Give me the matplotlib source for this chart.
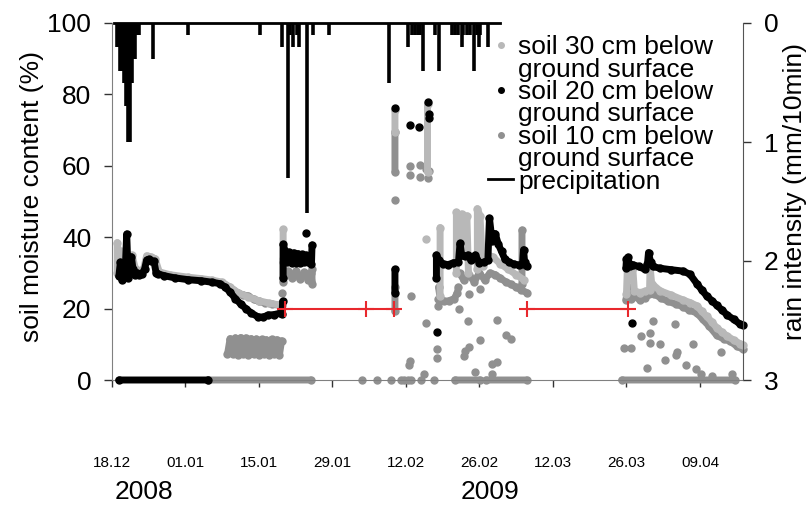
import numpy as np
import matplotlib
matplotlib.use("Agg")
import matplotlib.pyplot as plt
from matplotlib.lines import Line2D

plt.rcParams['font.family'] = ['Liberation Sans', 'DejaVu Sans']
nan = np.nan

# x axis: days since 18.12.2008
tick_days = [0, 14, 28, 42, 56, 70, 84, 98, 112]
tick_labels = ['18.12', '01.01', '15.01', '29.01', '12.02', '26.02', '12.03', '26.03', '09.04']
years = ['2008', '2009']

# soil 20 cm (black)
s20_days = [1.3, 1.6, 1.9, 2.2, 2.5, 2.8, 3.1, 3.4, 3.7, 4.0, 4.4, 4.8, 5.2, 5.7, 6.2, 6.6, 7.0, 7.5, 8.0,
            8.4, 8.8, 10, 12, 14.5, 17, 19, 20.5, 21.5, 22.5, 23.5, 24.5, 25.5, 26.5, 27.8, 28.8, 29.7,
            30.8, 32.0, 32.4, 32.5, nan,
            32.6, 32.6, 33.0, 33.4, 33.8, 34.2, 34.6, 35.0, 35.4, 35.8, 36.2, 36.6, 37.0, 37.4, 37.8, 38.0, 38.1, nan,
            53.9, 53.9, nan,
            61.8, 61.8, 62.3, 63.0, 64.0, 65.0, 66.0, 66.3, 66.6, 67.2, 67.8, 68.4, 69.2, 70.0, 70.8, 71.6,
            71.9, 72.4, 73.0, 73.6, 74.2, 74.8, 75.6, 76.5, 77.5, 78.2, 78.4, 78.6, 79.1, nan,
            97.9, 98.0, 98.3, 98.6, 99.2, 100.3, 101.5, 102.0, 102.2, 102.6, 103.0, 104.4, 106.5, 108.8,
            110.1, 111.4, 112.3, 113.3, 114.3, 115.2, 116.2, 117.1, 118.4, 119.6, 120.2, nan,
            1.3, 18.3]
s20_vals = [29, 33, 28, 32, 30, 40.9, 28.5, 30, 34.5, 31, 29.5, 30, 29.5, 29.8, 31, 33.6, 33.8, 33.4, 33.2,
            30, 29.7, 29.2, 28.6, 28.1, 27.8, 27.4, 27, 26.1, 24.6, 22.8, 21.3, 20.0, 18.8, 17.7, 17.6, 18.2,
            18.3, 18.7, 18.5, 22, nan,
            28.6, 38, 36, 33, 35.8, 32.8, 35.6, 32.8, 35.4, 32.9, 35.2, 33, 35, 33, 34.5, 32.6, 37.8, nan,
            24.5, 31, nan,
            28.6, 35, 33.5, 32.6, 32.3, 32.8, 33, 38.3, 35, 34.6, 35, 33.5, 35, 32.8, 33, 33.5,
            45.3, 39, 41, 38, 36, 34, 33, 32.5, 32.2, 32.5, 36.5, 33, 32, nan,
            31.3, 33.9, 34.4, 32, 32.3, 31.8, 31, 32.5, 35.7, 33, 31.8, 31.3, 30.9, 30.5,
            29.6, 27, 25.3, 23.5, 22.2, 20.9, 19.6, 18.3, 17, 15.7, 15.3, nan,
            0, 0]
s20_dot_days = [37.0, 53.9, 56.8, 58.5, 60.1, 60.4, 60.4, 62.0, 99.1]
s20_dot_vals = [41.1, 76.2, 71.4, 71.0, 78.0, 74.5, 73.5, 13.5, 16.0]

# soil 30 cm (light grey)
s30_days = [1.0, 1.0, 1.4, 1.8, 2.2, 2.6, 3.2, 3.8, 4.5, 5.2, 6.0, 6.6, 7.4, 8.2, 9.0, 11, 14.5, 17, 19,
            21, 22.5, 24, 26, 28, 30, 32, nan,
            32.6, 32.6, nan, 53.9, 53.9, nan, 60.1, 60.1, nan, 62.5, 62.5, nan,
            65.6, 65.6, 66.1, 66.6, 67.1, 67.6, 67.9, nan,
            69.6, 69.6, 70.1, 70.6, nan,
            71.0, 72.5, 74.0, 75.5, 77.0, 78.5, nan,
            98.0, 98.2, 98.7, 99.2, 99.5, 100.5, 101.5, 102.4, 102.5, 102.8, 104.4, 106.5, 108.8, 110.1,
            111.4, 112.3, 113.3, 114.3, 115.2, 116.2, 117.1, 118.4, 119.6, 120.2]
s30_vals = [30, 38.5, 33, 36, 31, 34, 33, 35, 31, 30.5, 31, 34.8, 34.5, 34, 30.3, 29.5, 28.8, 28.4, 28,
            27.4, 26, 24.5, 23.2, 22.2, 21.5, 21, nan,
            34, 42.2, nan, 69.5, 75.5, nan, 58.3, 77.3, nan, 23.4, 42.7, nan,
            30, 47, 40, 46.5, 35, 46, 30, nan,
            31, 48, 46, 32, nan,
            35.5, 34.5, 32.5, 31, 29.5, 28, nan,
            24, 32.6, 30, 31.5, 25, 24.5, 24.8, 25.3, 31.8, 27, 25, 23.8, 22.4, 21.7,
            20.8, 19.3, 17.8, 16.2, 14.6, 13.4, 12.4, 11.2, 10.2, 9.8]
s30_dot_days = [59.9]
s30_dot_vals = [39.6]

# soil 10 cm (mid grey)
s10_days = [21.5, 22.2, 23, 24, 25, 26, 27, 28, 29.1, 30.5, 32, 32.4, nan,
            32.6, 32.6, nan,
            32.8, 33.5, 34.3, 35.0, 35.8, 36.6, 37.4, 37.9, 38.1, 38.1, nan,
            22.0, 22.5, 23.0, 23.5, 24.0, 24.5, 25.0, 25.5, 26.0, 26.5, 27.0, 27.5, 28.0, 28.5, nan,
            28.9, 29.4, 29.9, 30.4, 30.9, 31.4, 31.9, 32.3, nan,
            18.3, 37.9, nan, 65.3, 70.1, nan, 71.2, 79.0, nan, 97.1, 118.7, nan,
            53.9, 53.9, nan, 53.9, 53.9, nan,
            62.2, 62.5, 63.2, 64.2, 65.2, 65.8, 66.0, nan,
            66.2, 67, 68, 69, 70, 71, 72, 73, 74, 75, 76, 77, 78, 79, nan,
            78.1, 78.1, nan,
            97.9, 98.3, 98.8, 99.5, 100.5, 101.5, 102.3, 103.2, 104.5, 106, 107.5, 108.8, 110, 111.4,
            112.5, 113.8, 115.2, 116.5, 117.8, 119, 120.2]
s10_vals = [26.5, 26.1, 25.2, 24.3, 23.8, 23.5, 22.6, 22, 21.6, 21.2, 20.9, 21, nan,
            27.5, 33, nan,
            29, 30.5, 28.5, 30.5, 28.2, 30.2, 28, 30, 27, 31, nan,
            7.2, 11.6, 7.2, 11.8, 7.1, 11.9, 7.2, 11.8, 7.1, 11.6, 7.2, 11.5, 7.1, 11.4, nan,
            7.2, 11.3, 7.1, 11.4, 7.2, 11.3, 7.1, 11.0, nan,
            0, 0, nan, 0, 0, nan, 0, 0, nan, 0, 0, nan,
            58.3, 69.5, nan, 19.3, 26, nan,
            26, 23, 22, 22.2, 22.8, 24.5, 26, nan,
            30, 28, 29.5, 27.5, 30, 28, 30, 29.5, 28.5, 27.5, 26.8, 26, 25.2, 24.5, nan,
            27, 42, nan,
            22.5, 26, 22.7, 23.5, 22.5, 23, 24, 24.2, 23, 22, 21.2, 20.5, 19.5, 18.8,
            17, 15, 12.5, 11.5, 10.8, 9.5, 8.6]
s10_dot_days = [32.3, 53.9, 56.9, 59.9, 62.0, 62.0, 62.1, 62.1, 66.1, 67.9, 68.1, 67.2, 67.0, 70.1, 73.3,
                75.0, 76.1, 68.1, 70.1, 56.8, 73.3, 56.5, 59.4, 69.1, 72.4, 72.4,
                56.8, 56.8, 58.7, 58.7, 59.8, 60.2, 60.3,
                47.6, 50.5, 53.1, 55.0, 55.6, 56.3, 57.0, 58.9, 61.3,
                103.1, 100.7, 102.5, 102.5, 98.9, 107.2, 110.7, 107.6, 104.3, 116.1, 97.5, 101.9, 105.3,
                107.4, 109.3, 111.2, 112.2, 114.3, 118.1]
s10_dot_vals = [24.4, 50.5, 23.4, 16.1, 8.8, 6.3, 22.7, 20.6, 19.8, 16.4, 9.2, 8.0, 6.6, 11.2, 16.7,
                12.5, 11.5, 24.0, 25.6, 5.3, 5.0, 4.2, 1.6, 2.3, 4.4, 1.8,
                60.0, 57.3, 60.2, 57.0, 59.0, 56.5, 58.5,
                0, 0, 0, 0, 0, 0, 0, 0, 0,
                16.6, 12.2, 13.1, 10.5, 8.9, 15.7, 10.1, 7.9, 10.1, 7.9, 9.0, 3.4, 5.7,
                7.0, 4.2, 3.1, 1.8, 1.0, 1.6]

# gaps in the record (red)
gap1_days = [32.9, 48.3, 53.7]
gap2_days = [79.0, 98.2]
gap_level = 20

# precipitation (mm/10min)
rain_span = [0.3, 73.9]
rain_days = [1.0, 1.3, 1.6, 1.9, 2.2, 2.5, 2.7, 2.95, 3.1, 3.35, 3.6, 3.85, 4.1, 4.35, 4.6, 4.85, 5.1,
             7.9, 14.4, 28.2, 32.3, 33.6, 34.0, 34.5, 35.2, 35.7, 37.1, 38.2, 41.3,
             52.8, 56.3, 57.1, 57.7, 58.2, 58.7, 59.3, 61.5, 62.2, 64.7, 65.3, 65.9, 66.6, 66.9,
             67.6, 68.2, 69.0, 69.5, 70.0, 70.1, 71.6]
rain_vals = [0.2, 0.2, 0.4, 0.4, 0.5, 0.5, 0.7, 0.7, 1.0, 1.0, 0.5, 0.5, 0.3, 0.3, 0.1, 0.1, 0.1,
             0.3, 0.1, 0.1, 0.2, 1.3, 0.1, 0.2, 0.1, 0.2, 1.6, 0.1, 0.1,
             0.5, 0.2, 0.1, 0.1, 0.1, 0.1, 0.4, 0.1, 0.4, 0.1, 0.1, 0.1, 0.2, 0.1,
             0.1, 0.1, 0.4, 0.1, 0.2, 0.1, 0.2]

c30, c20, c10 = '#b8b8b8', '#000000', '#909090'

fig = plt.figure(figsize=(8.11, 5.07), dpi=100)
ax = fig.add_axes([112 / 811, 1 - 380 / 507, 631 / 811, 357 / 507])
ax2 = ax.twinx()


def curve(d, v, c, z):
    ax.plot(d, v, color=c, lw=5, marker='o', ms=5, mec=c, solid_capstyle='round',
            solid_joinstyle='round', clip_on=False, zorder=z)


def dots(d, v, c, z):
    return ax.plot(d, v, ls='none', marker='o', ms=5, color=c, mec=c, clip_on=False, zorder=z)[0]


curve(s10_days, s10_vals, c10, 2)
curve(s30_days, s30_vals, c30, 3)
curve(s20_days, s20_vals, c20, 4)
h10 = dots(s10_dot_days, s10_dot_vals, c10, 2)
h30 = dots(s30_dot_days, s30_dot_vals, c30, 3)
h20 = dots(s20_dot_days, s20_dot_vals, c20, 4)

for g in (gap1_days, gap2_days):
    ax.plot(g, [gap_level] * len(g), color='#e8282d', lw=1.5, marker='+', ms=11, mew=1.5, zorder=6)

ax.set_xlim(0, 120.2)
ax.set_ylim(0, 100)
ax.set_yticks([0, 20, 40, 60, 80, 100])
ax.set_xticks(tick_days)
ax.set_xticklabels(tick_labels)
ax.tick_params(axis='y', direction='out', length=6, width=1, color='#333333', labelsize=19, pad=9)
ax.tick_params(axis='x', direction='out', length=5, width=1, color='#333333', labelsize=11, pad=50)
for s in ('top', 'right'):
    ax.spines[s].set_visible(False)
for s in ('left', 'bottom'):
    ax.spines[s].set_color('#808080')

hp = ax2.plot(rain_span, [0, 0], color='black', lw=2, clip_on=False, zorder=5)[0]
ax2.vlines(rain_days, 0, rain_vals, color='black', lw=2.6, zorder=5)
ax2.set_ylim(3, 0)
ax2.set_yticks([0, 1, 2, 3])
ax2.tick_params(axis='y', direction='out', length=6, width=1, color='#333333', labelsize=19, pad=9)
for s in ('top', 'left', 'bottom'):
    ax2.spines[s].set_visible(False)
ax2.spines['right'].set_color('#555555')

blank = Line2D([], [], ls='none')
ax2.legend([h30, blank, h20, blank, h10, blank, hp],
           ['soil 30 cm below', 'ground surface', 'soil 20 cm below', 'ground surface',
            'soil 10 cm below', 'ground surface', 'precipitation'],
           loc='upper left', bbox_to_anchor=(0.596, 0.966), frameon=False, fontsize=19,
           handlelength=0.95, handletextpad=0.2, labelspacing=-0.06, borderpad=0,
           borderaxespad=0, markerscale=0.8)

fig.text(32 / 811, 1 - 197 / 507, 'soil moisture content (%)', rotation=90, ha='center', va='center', fontsize=19)
fig.text(795 / 811, 1 - 192 / 507, 'rain intensity (mm/10min)', rotation=90, ha='center', va='center', fontsize=19)
fig.text(144 / 811, 1 - 492 / 507, years[0], ha='center', va='center', fontsize=19)
fig.text(490 / 811, 1 - 492 / 507, years[1], ha='center', va='center', fontsize=19)

fig.savefig('out.png', dpi=100)
